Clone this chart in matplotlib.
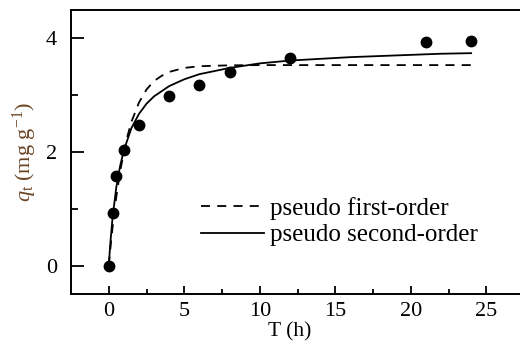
import matplotlib
matplotlib.use("Agg")
import matplotlib.pyplot as plt
from matplotlib.ticker import MultipleLocator

plt.rcParams['font.family'] = ['Liberation Serif', 'DejaVu Serif']
plt.rcParams['mathtext.fontset'] = 'custom'
plt.rcParams['mathtext.rm'] = 'Liberation Serif'
plt.rcParams['mathtext.it'] = 'Liberation Serif:italic'

# measured uptake
t_exp = [0, 0.25, 0.5, 1, 2, 4, 6, 8, 12, 21, 24]
q_exp = [0, 0.93, 1.57, 2.03, 2.48, 2.98, 3.18, 3.40, 3.65, 3.94, 3.96]

# fitted curves
t_fit1 = [0, 0.1, 0.25, 0.5, 0.75, 1, 1.25, 1.5, 2, 2.5, 3, 3.5, 4, 5, 6, 8, 10, 12, 16, 20, 24]
q_fit1 = [0, 0.28, 0.67, 1.21, 1.65, 2.00, 2.29, 2.53, 2.87, 3.10, 3.25, 3.34, 3.41, 3.48,
          3.51, 3.526, 3.53, 3.53, 3.53, 3.53, 3.53]

t_fit2 = [0, 0.1, 0.25, 0.5, 0.75, 1, 1.5, 2, 2.5, 3, 4, 5, 6, 8, 10, 12, 14, 16, 18, 20, 22, 24]
q_fit2 = [0, 0.38, 0.84, 1.38, 1.75, 2.03, 2.42, 2.67, 2.85, 2.98, 3.16, 3.28, 3.37, 3.48,
          3.56, 3.61, 3.64, 3.67, 3.69, 3.71, 3.73, 3.74]

fig = plt.figure(figsize=(5.2, 3.43), dpi=100)
ax = fig.add_axes([71 / 520, 49 / 343, 453 / 520, 284 / 343])

ax.plot(t_fit1, q_fit1, color='black', lw=1.3, dashes=(5, 4), label='pseudo first-order')
ax.plot(t_fit2, q_fit2, color='black', lw=1.3, label='pseudo second-order')
ax.plot(t_exp, q_exp, 'o', color='black', markersize=7.5, zorder=3)

ax.set_xlim(-2.5, 27.5)
ax.set_ylim(-0.5, 4.5)
ax.xaxis.set_major_locator(MultipleLocator(5))
ax.xaxis.set_minor_locator(MultipleLocator(2.5))
ax.yaxis.set_major_locator(MultipleLocator(2))
ax.yaxis.set_minor_locator(MultipleLocator(1))

ax.tick_params(axis='y', which='major', direction='in', length=9, width=1.3, pad=10, labelsize=16)
ax.tick_params(axis='y', which='minor', direction='in', length=5, width=1.3)
ax.tick_params(axis='x', which='major', direction='in', length=6, width=1.3, pad=6, labelsize=16)
ax.tick_params(axis='x', which='minor', direction='in', length=3.5, width=1.3)
for s in ax.spines.values():
    s.set_linewidth(1.4)

ax.set_xlabel('T (h)', fontsize=15.5, va='bottom')
ax.xaxis.set_label_coords(0.483, -0.168, transform=ax.transAxes)
ax.set_ylabel(r'$q_\mathrm{t}$ (mg g$^{\mathrm{-1}}$)', fontsize=16, color='#6b4423', labelpad=5)

ax.legend(loc='upper left', bbox_to_anchor=(0.26, 0.385), frameon=False, fontsize=18,
          handlelength=2.5, handletextpad=0.25, labelspacing=0.15, borderpad=0)

fig.savefig('out.png', dpi=100)
